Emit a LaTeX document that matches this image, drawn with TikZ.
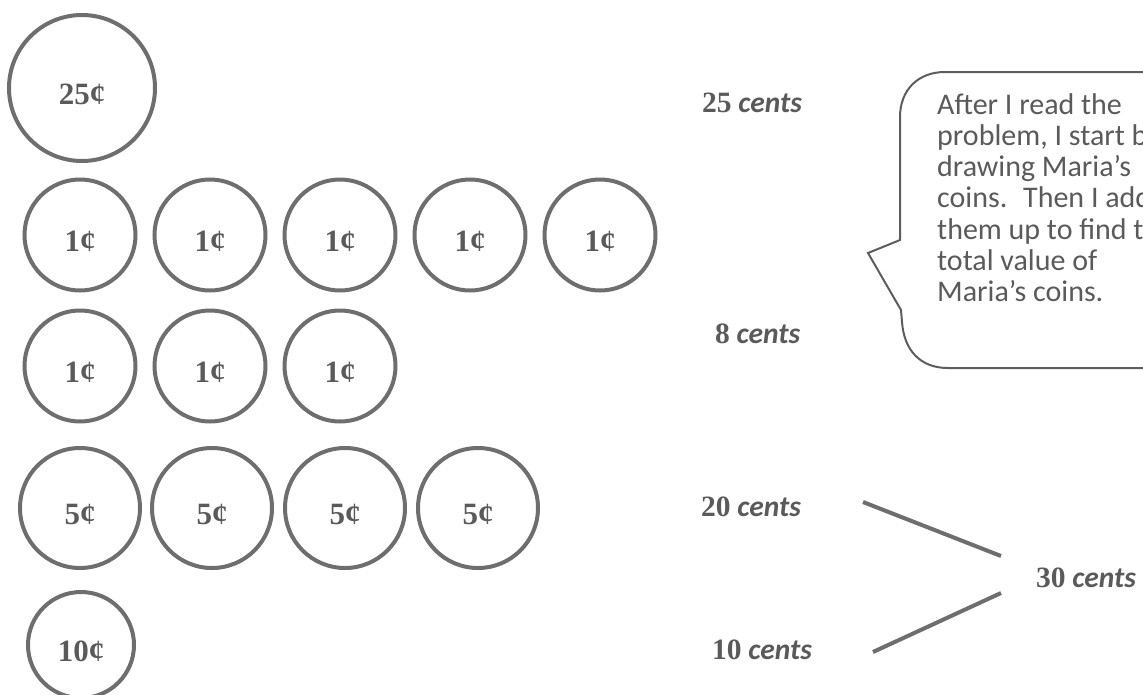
\documentclass[tikz,border=0pt]{standalone}
\usepackage{fontspec}
\setmainfont{Carlito}
\newfontfamily\numfont{Liberation Serif}
\definecolor{coinline}{RGB}{110,110,110}
\definecolor{inkgray}{RGB}{90,90,90}
\begin{document}
\begin{tikzpicture}[x=1pt,y=-1pt,
  coin/.style={circle,draw=coinline,line width=4pt,inner sep=0pt,
    text=inkgray,font=\fontsize{31}{32}\selectfont\numfont\bfseries,
    text height=33pt,text depth=0pt},
  quarter/.style={coin,minimum size=146pt},
  penny/.style={coin,minimum size=111pt},
  nickel/.style={coin,minimum size=120pt},
  dime/.style={coin,minimum size=106pt},
  lab/.style={anchor=west,inner sep=0pt,text=inkgray,font=\fontsize{29.5}{30}\selectfont},
  joinline/.style={draw=coinline,line width=4pt},
  bubble/.style={draw=coinline!85!black,line width=2pt}]
\useasboundingbox (0,0) rectangle (1143,694);
% coins
\node[quarter] (q1) at (82,88) {25¢};
\foreach \i/\x in {1/80,2/210,3/340,4/470,5/600}{
  \node[penny] (pa\i) at (\x,235) {1¢};}
\foreach \i/\x in {1/80,2/210,3/340}{
  \node[penny] (pb\i) at (\x,366) {1¢};}
\foreach \i/\x in {1/80,2/212,3/345,4/478}{
  \node[nickel] (n\i) at (\x,508) {5¢};}
\node[dime] (d1) at (81,645) {10¢};
% labels
\newcommand{\lbl}[1]{{\numfont\bfseries #1} \textbf{\textit{cents}}}
\node[lab] (l25) at (702,103) {\lbl{25}};
\node[lab] (l8) at (715,334) {\lbl{8}};
\node[lab] (l20) at (701,507) {\lbl{20}};
\node[lab] (l10) at (712,650) {\lbl{10}};
\node[lab] (l30) at (1036,578) {\lbl{30}};
\coordinate (s20) at (863,502);
\coordinate (e20) at (1001,556);
\coordinate (s10) at (873,652);
\coordinate (e10) at (1001,593);
\draw[joinline] (s20) -- (e20);
\draw[joinline] (s10) -- (e10);
% speech bubble
\draw[bubble] (1160,72) -- (945,72) .. controls (918,72) and (900,90) .. (900,117)
  -- (900,240) -- (868,253) -- (901,310) -- (902,322)
  .. controls (904,350) and (920,368) .. (948,368) -- (1160,368);
\node[anchor=north west,inner sep=0pt,align=left,text=inkgray,
  font=\fontsize{30}{31.3}\selectfont] (talk) at (937,93)
  {After I read the\\problem, I start by\\drawing Maria’s\\coins.~ Then I add\\them up to find the\\total value of\\Maria’s coins.};
\end{tikzpicture}
\end{document}
